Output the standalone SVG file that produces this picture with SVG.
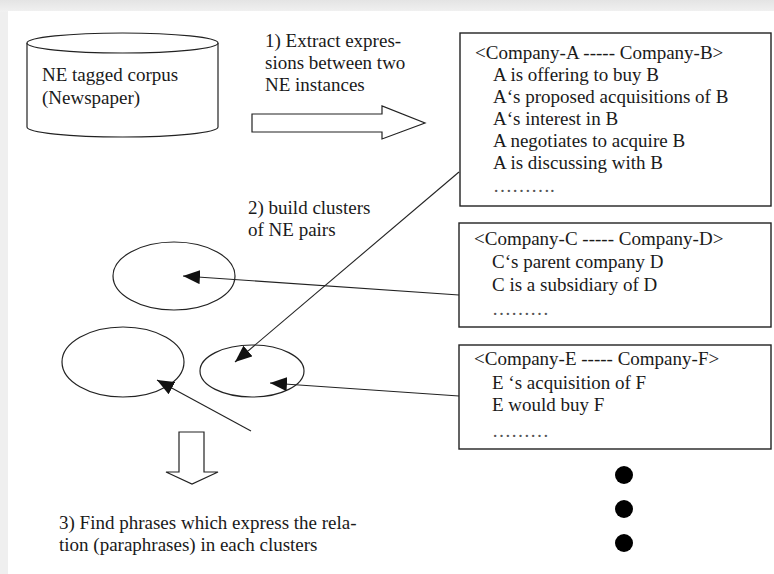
<svg xmlns="http://www.w3.org/2000/svg" width="774" height="574" viewBox="0 0 774 574">
  <style>
    .t { font-family: "Liberation Serif", "Times New Roman", serif; font-size: 19px; fill: #1a1a1a; }
    .dots { font-family: "Liberation Serif", "Times New Roman", serif; font-size: 19px; fill: #555; }
    .shape { fill: #fff; stroke: #222; stroke-width: 1.2; }
    .box { fill: #fff; stroke: #222; stroke-width: 1.4; }
    .edge { fill: none; stroke: #222; stroke-width: 1.1; }
  </style>
  <defs>
    <linearGradient id="topband" x1="0" y1="0" x2="0" y2="1">
      <stop offset="0" stop-color="#e4e4e4"/>
      <stop offset="1" stop-color="#f1f1f1"/>
    </linearGradient>
    <marker id="head" viewBox="0 0 17 14" markerWidth="17" markerHeight="14" refX="17" refY="7" orient="auto" markerUnits="userSpaceOnUse">
      <path d="M0,0 L17,7 L0,14 Z" fill="#111"/>
    </marker>
  </defs>

  <!-- page background -->
  <rect x="0" y="0" width="774" height="574" fill="#efefef"/>
  <rect x="0" y="0" width="774" height="12" fill="url(#topband)"/>
  <rect x="8" y="11" width="766" height="563" fill="#fff"/>

  <!-- corpus store -->
  <g id="corpus">
    <path class="shape" d="M27,43 V127 A95.5,10 0 0 0 218,127 V43"/>
    <ellipse class="shape" cx="122.5" cy="43" rx="95.5" ry="10"/>
    <text class="t" x="42" y="81">NE tagged corpus</text>
    <text class="t" x="42" y="104">(Newspaper)</text>
  </g>

  <!-- step 1 -->
  <g id="step1">
    <text class="t" x="265" y="47">1) Extract expres-</text>
    <text class="t" x="265" y="69">sions between two</text>
    <text class="t" x="265" y="91">NE instances</text>
    <path class="shape" d="M252,114 H382 V106 L425,123 L382,139 V132 H252 Z"/>
  </g>

  <!-- pair A/B -->
  <g id="pairAB">
    <rect class="box" x="460" y="33" width="311" height="173"/>
    <text class="t" x="475" y="59">&lt;Company-A ----- Company-B&gt;</text>
    <text class="t" x="493" y="81">A is offering to buy B</text>
    <text class="t" x="493" y="103">A‘s proposed acquisitions of B</text>
    <text class="t" x="493" y="125">A‘s interest in B</text>
    <text class="t" x="493" y="147">A negotiates to acquire B</text>
    <text class="t" x="493" y="169">A is discussing with B</text>
    <text class="dots" x="493" y="192">……….</text>
  </g>

  <!-- pair C/D -->
  <g id="pairCD">
    <rect class="box" x="459" y="223" width="312" height="104"/>
    <text class="t" x="474" y="245">&lt;Company-C ----- Company-D&gt;</text>
    <text class="t" x="492" y="268">C‘s parent company D</text>
    <text class="t" x="492" y="291">C is a subsidiary of D</text>
    <text class="dots" x="492" y="315">………</text>
  </g>

  <!-- pair E/F -->
  <g id="pairEF">
    <rect class="box" x="459" y="345" width="312" height="104"/>
    <text class="t" x="474" y="365">&lt;Company-E ----- Company-F&gt;</text>
    <text class="t" x="492" y="389">E ‘s acquisition of F</text>
    <text class="t" x="492" y="411">E would buy F</text>
    <text class="dots" x="492" y="437">………</text>
  </g>

  <!-- more pairs -->
  <g id="more">
    <circle cx="624" cy="475" r="9" fill="#000"/>
    <circle cx="624" cy="509" r="9" fill="#000"/>
    <circle cx="624" cy="543" r="9" fill="#000"/>
  </g>

  <!-- step 2 -->
  <g id="step2">
    <text class="t" x="248" y="214">2) build clusters</text>
    <text class="t" x="248" y="236">of NE pairs</text>
  </g>

  <!-- clusters -->
  <g id="cluster1"><ellipse class="shape" cx="174" cy="276" rx="61" ry="34"/></g>
  <g id="cluster2"><ellipse class="shape" cx="123" cy="362" rx="61" ry="35"/></g>
  <g id="cluster3"><ellipse class="shape" cx="252" cy="371" rx="52" ry="26"/></g>

  <!-- step 3 -->
  <g id="step3">
    <path class="shape" d="M179,432 H204 V472 H218 L192,484 L166,472 H179 Z"/>
    <text class="t" x="59" y="529">3) Find phrases which express the rela-</text>
    <text class="t" x="59" y="551">tion (paraphrases) in each clusters</text>
  </g>

  <!-- connectors -->
  <g id="connectors">
    <line class="edge" x1="459" y1="172" x2="235" y2="362" marker-end="url(#head)"/>
    <line class="edge" x1="459" y1="295" x2="183" y2="276" marker-end="url(#head)"/>
    <line class="edge" x1="459" y1="396" x2="270" y2="383" marker-end="url(#head)"/>
    <line class="edge" x1="251" y1="431" x2="157" y2="380" marker-end="url(#head)"/>
  </g>
</svg>
